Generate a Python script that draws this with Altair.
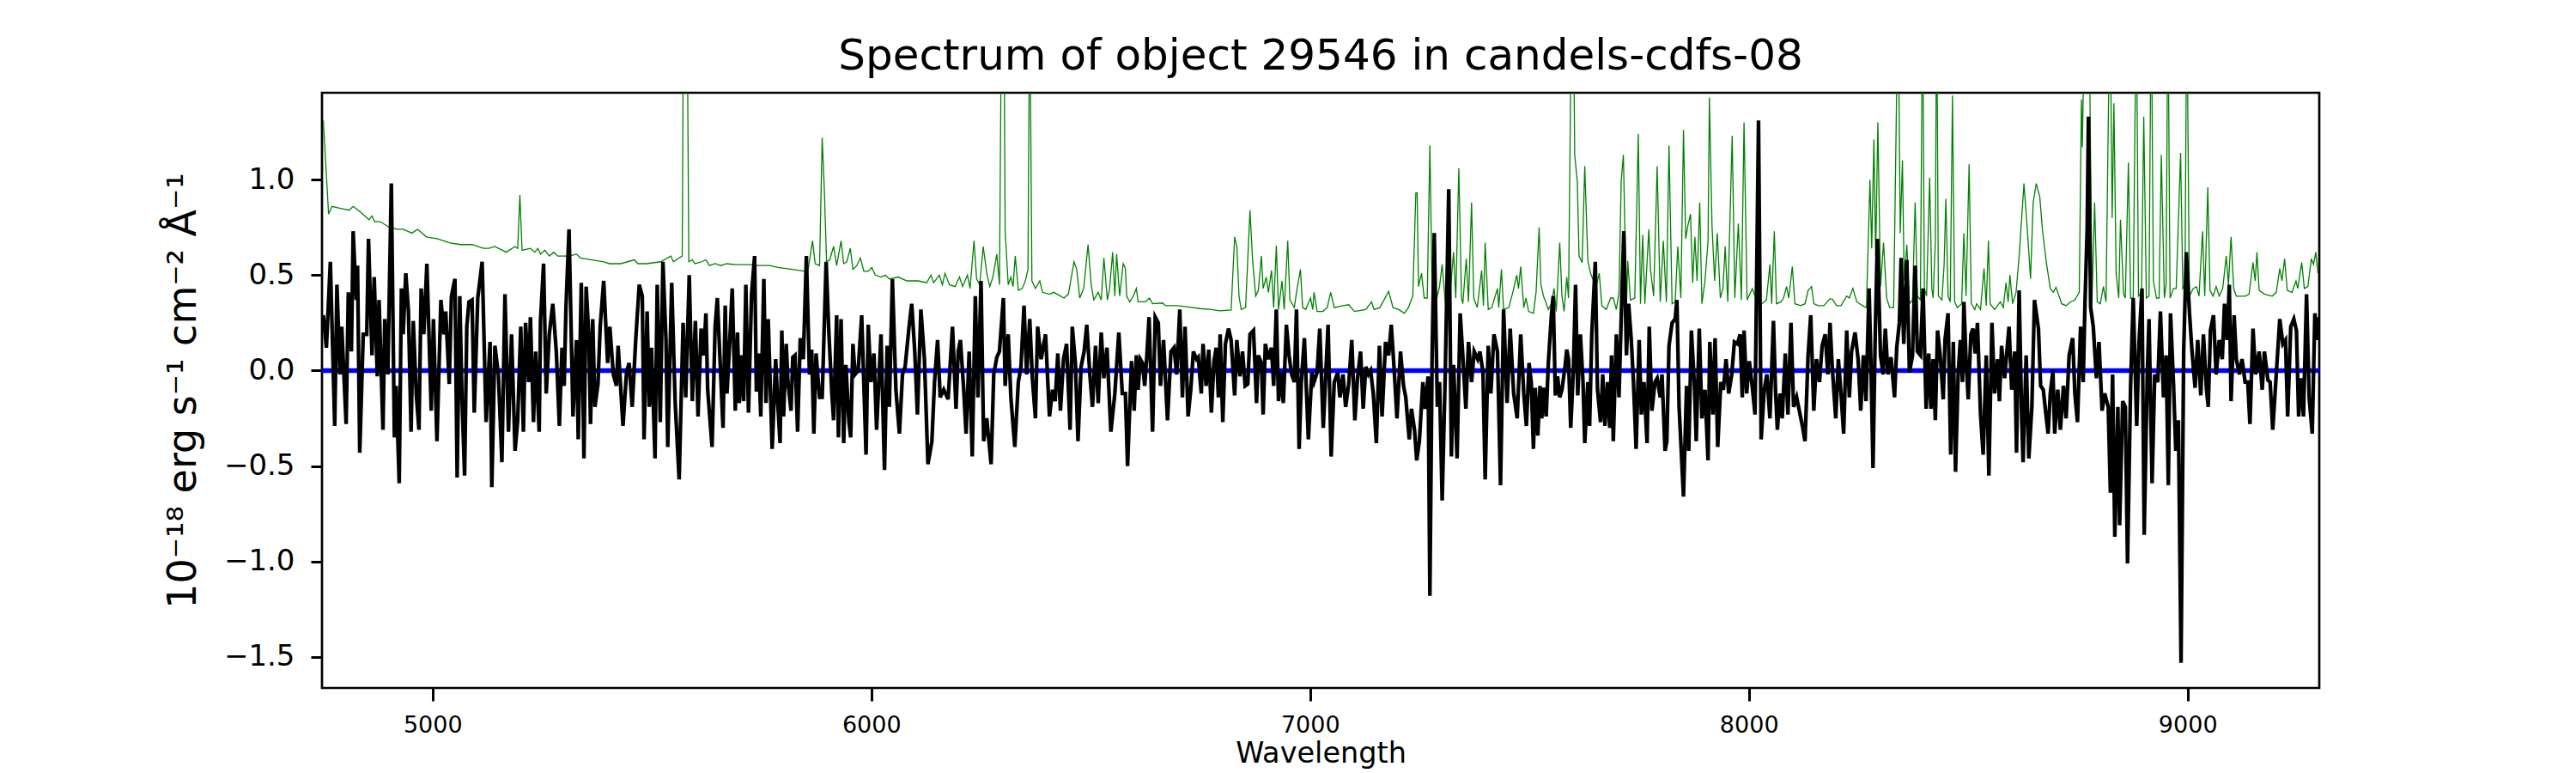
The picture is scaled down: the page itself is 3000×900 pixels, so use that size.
import altair as alt
import pandas as pd

TITLE = "Spectrum of object 29546 in candels-cdfs-08"
X_TITLE = "Wavelength"
Y_TITLE = "10⁻¹⁸ erg s⁻¹ cm⁻² Å⁻¹"
X_TICKS = [5000, 6000, 7000, 8000, 9000]
Y_TICKS = [-1.5, -1.0, -0.5, 0.0, 0.5, 1.0]
X_DOMAIN = [4748, 9300]
Y_DOMAIN = [-1.662, 1.455]
ZERO_LEVEL = [0.0]

# object flux (black): (wavelength, flux)
flux_a = [(4751,0.29),(4758,0.12),(4767,0.57),(4777,-0.29),(4782,0.45),(4789,-0.02),(4793,0.23),(4803,-0.28),(4808,0.41),(4815,0.10),(4819,0.73),(4826,0.37),(4829,0.55),(4834,-0.43),(4842,0.19),(4850,0.19),(4854,0.69),(4862,0.08),(4867,0.49),(4874,-0.03),(4878,0.37),(4887,-0.31),(4891,0.27),(4898,-0.02),(4906,0.98),(4913,-0.35),(4917,-0.08),(4924,-0.59),(4929,0.43),(4933,0.19),(4939,0.51),(4945,0.31),(4951,-0.32),(4956,0.26),(4963,-0.13),(4969,-0.31),(4974,0.43),(4980,0.19),(4987,0.56),(4997,-0.21),(5002,0.27),(5010,-0.37),(5019,0.37),(5026,0.19),(5030,0.31),(5038,-0.07),(5043,0.39),(5051,0.48),(5056,-0.56),(5062,0.39),(5067,-0.14),(5073,-0.55),(5078,0.23),(5083,0.36),(5090,0.37),(5095,-0.22),(5103,0.38),(5113,0.57),(5122,-0.27),(5131,0.15),(5135,-0.61),(5142,0.13),(5150,-0.02),(5158,-0.48),(5165,0.40),(5173,-0.32),(5180,0.19),(5188,-0.42),(5194,-0.26),(5201,0.23),(5207,-0.32),(5212,0.25),(5219,-0.06),(5223,0.28),(5230,-0.27),(5235,0.10),(5243,-0.32),(5246,0.26),(5253,0.56),(5259,-0.12),(5266,0.19),(5274,0.35),(5282,0.10),(5289,-0.29),(5295,0.12),(5300,-0.08),(5304,0.33),(5311,0.74),(5320,-0.24),(5328,0.16),(5332,-0.36),(5339,0.46),(5345,-0.46),(5350,0.44),(5356,0.19),(5360,-0.28),(5365,0.27),(5370,-0.19),(5377,-0.07),(5382,0.23),(5390,0.47),(5399,0.04),(5404,0.23),(5412,-0.02),(5419,-0.08),(5423,0.13),(5434,-0.29),(5442,-0.01),(5448,0.04),(5455,-0.19),(5463,0.16),(5471,0.45),(5478,0.39),(5482,-0.36),(5489,0.31),(5494,-0.19),(5499,0.12),(5507,-0.46),(5512,0.45),(5519,-0.27),(5525,0.57),(5532,0.16),(5536,-0.40),(5545,0.46),(5553,-0.17),(5562,-0.57),(5571,0.25),(5577,-0.14),(5585,0.50),(5592,-0.16),(5599,0.26),(5605,-0.24),(5612,0.22),(5618,0.08),(5623,0.30),(5627,-0.10),(5637,-0.40),(5644,0.23),(5649,0.38)]
flux_b = [(5657,-0.04),(5662,-0.30),(5667,0.34),(5671,-0.12),(5677,0.14),(5683,0.43),(5690,-0.21),(5695,0.20),(5699,-0.17),(5704,0.08),(5709,-0.16),(5714,0.45),(5720,-0.22),(5727,0.40),(5734,0.60),(5738,-0.11),(5743,0.09),(5748,-0.24),(5755,0.48),(5760,-0.17),(5765,0.27),(5774,-0.41),(5782,0.06),(5786,-0.14),(5792,-0.38),(5796,0.21),(5800,-0.24),(5806,0.14),(5810,-0.06),(5817,-0.21),(5821,0.07),(5826,0.08),(5832,-0.32),(5838,0.17),(5845,0.06),(5852,0.60),(5859,-0.02),(5864,0.11),(5869,-0.33),(5874,0.09),(5882,-0.14),(5888,-0.14),(5897,0.57),(5903,0.21),(5910,-0.12),(5914,-0.26),(5921,0.29),(5925,-0.35),(5931,0.27),(5937,-0.38),(5942,0.03),(5949,-0.27),(5953,-0.35),(5958,0.14),(5963,-0.02),(5970,0.00),(5978,0.29),(5988,-0.44),(5993,0.24),(5999,-0.06),(6006,0.09),(6012,-0.31),(6022,0.19),(6030,-0.52),(6036,0.13),(6041,-0.19),(6048,0.48),(6056,-0.10),(6064,-0.33),(6071,-0.02),(6077,0.02),(6086,0.23),(6092,0.35),(6099,0.10),(6105,-0.23),(6113,0.32),(6121,0.06),(6129,-0.49),(6138,-0.37),(6144,-0.06),(6151,0.16),(6157,-0.14),(6165,-0.10),(6175,-0.15),(6185,0.23),(6193,-0.20),(6198,0.10),(6203,0.16),(6210,-0.08),(6216,-0.33),(6223,0.10),(6230,-0.45),(6237,0.39),(6243,-0.14),(6250,0.47),(6256,-0.37),(6263,-0.25),(6273,-0.49),(6279,-0.02),(6286,0.07),(6292,0.10),(6301,0.38),(6305,-0.08),(6312,0.19),(6318,-0.14),(6327,-0.40),(6335,-0.06),(6341,0.02),(6348,0.34),(6354,-0.02),(6361,0.27),(6367,-0.04),(6374,-0.25),(6379,0.23),(6387,0.06),(6397,0.19),(6406,-0.24),(6413,-0.10),(6419,-0.16),(6425,0.09),(6431,-0.21),(6438,0.06),(6445,0.14),(6453,-0.31),(6458,0.23),(6465,0.04),(6471,-0.37),(6478,0.02),(6485,0.10),(6491,0.24),(6498,-0.02),(6504,-0.19),(6511,0.13),(6517,-0.17),(6524,0.20),(6530,-0.04),(6537,0.12),(6546,-0.32),(6555,-0.12),(6564,0.20),(6572,-0.12)]
flux_c = [(6579,-0.12),(6584,-0.50),(6589,-0.19),(6593,0.05),(6599,-0.21),(6604,0.08),(6608,-0.10),(6613,0.06),(6618,0.04),(6623,-0.08),(6628,0.08),(6633,0.28),(6641,-0.32),(6647,0.28),(6654,0.25),(6659,-0.08),(6666,0.16),(6675,-0.26),(6683,0.10),(6690,0.12),(6696,-0.02),(6703,0.32),(6709,-0.14),(6715,0.23),(6722,-0.24),(6728,-0.10),(6734,0.10),(6741,0.06),(6745,0.07),(6752,-0.12),(6756,0.14),(6763,-0.08),(6769,0.11),(6775,-0.22),(6781,0.05),(6786,0.12),(6791,-0.14),(6795,0.19),(6801,-0.27),(6807,0.14),(6814,0.22),(6820,0.16),(6828,-0.13),(6833,0.16),(6840,-0.03),(6846,0.10),(6852,-0.08),(6858,-0.07),(6863,0.19),(6871,0.21),(6878,-0.17),(6882,0.08),(6889,0.04),(6893,-0.23),(6898,0.14),(6905,0.06),(6912,0.12),(6917,-0.08),(6923,0.32),(6928,-0.16),(6934,-0.01),(6939,-0.17),(6946,0.24),(6952,0.08),(6958,-0.02),(6964,-0.06),(6969,0.32),(6975,-0.41),(6980,-0.06),(6987,0.17),(6996,-0.36),(7004,-0.01),(7009,-0.06),(7016,-0.01),(7022,0.22),(7030,-0.30),(7041,0.24),(7048,-0.45),(7055,-0.06),(7063,-0.01),(7068,-0.14),(7075,-0.02),(7081,-0.19),(7088,-0.07),(7095,0.16),(7102,-0.26),(7108,-0.04),(7115,0.10),(7121,-0.20),(7127,0.02),(7133,-0.02),(7138,0.00),(7144,-0.12),(7151,-0.38),(7158,0.13),(7164,-0.24),(7172,0.15),(7179,0.08),(7185,0.24),(7192,-0.01),(7198,-0.25),(7206,0.10),(7213,-0.08),(7218,-0.14),(7226,-0.36),(7231,-0.20),(7238,-0.31),(7243,-0.47),(7249,-0.37),(7257,-0.06),(7262,-0.20),(7269,-0.03),(7273,-1.18),(7278,0.06),(7283,0.72),(7290,-0.19),(7295,-0.06),(7301,-0.68),(7308,-0.02),(7316,0.95),(7322,-0.45),(7327,0.03),(7335,-0.46),(7342,0.30),(7348,0.08),(7355,-0.20),(7361,0.15),(7368,-0.06),(7374,0.10),(7382,0.06),(7387,0.10),(7394,-0.01),(7399,-0.57),(7406,0.13),(7412,-0.12),(7419,0.19),(7427,0.10),(7434,-0.60),(7441,0.32),(7449,-0.17),(7456,0.22),(7464,-0.12),(7472,-0.25),(7480,0.19),(7487,-0.12),(7493,-0.29)]
flux_d = [(7499,0.04),(7504,-0.06),(7509,-0.41),(7513,-0.09),(7519,-0.34),(7524,-0.08),(7528,-0.25),(7533,-0.09),(7538,-0.24),(7543,0.04),(7550,0.29),(7554,0.39),(7559,-0.13),(7564,-0.03),(7569,-0.14),(7574,-0.10),(7581,0.02),(7585,0.11),(7589,0.06),(7594,-0.30),(7600,0.00),(7605,0.45),(7610,-0.13),(7616,0.19),(7622,-0.06),(7626,-0.38),(7633,-0.06),(7637,-0.29),(7642,0.19),(7650,0.57),(7655,-0.10),(7662,-0.27),(7667,-0.02),(7672,-0.29),(7678,-0.06),(7683,-0.30),(7687,0.08),(7691,-0.37),(7698,0.19),(7704,-0.14),(7709,0.27),(7715,0.73),(7721,0.08),(7726,0.35),(7732,0.16),(7737,-0.06),(7743,-0.41),(7750,0.16),(7755,-0.23),(7761,-0.06),(7768,-0.38),(7773,0.23),(7779,-0.21),(7786,-0.06),(7791,-0.04),(7798,-0.14),(7802,-0.02),(7809,-0.42),(7813,-0.37),(7818,0.13),(7825,0.25),(7832,0.27),(7836,0.37),(7841,-0.19),(7851,-0.66),(7858,-0.08),(7863,-0.42),(7869,0.21),(7876,-0.08),(7880,-0.37),(7887,0.22),(7893,-0.25),(7900,-0.10),(7907,-0.47),(7911,0.15),(7918,-0.23),(7923,0.17),(7929,-0.40),(7936,-0.06),(7942,-0.10),(7948,0.06),(7954,-0.12),(7961,-0.02),(7967,0.15),(7974,0.14),(7980,0.19),(7985,-0.14),(7989,0.21),(7995,-0.12),(8001,0.05),(8008,-0.09),(8014,-0.23),(8022,1.31),(8028,-0.36),(8035,-0.10),(8041,-0.02),(8048,-0.25),(8056,0.26),(8061,-0.12),(8065,-0.31),(8071,-0.12),(8076,-0.25),(8083,0.09),(8089,-0.23),(8096,0.25),(8102,-0.19),(8109,-0.14),(8115,-0.21),(8122,-0.29),(8128,-0.37),(8135,0.08),(8141,0.29),(8148,-0.21),(8154,0.06),(8161,-0.06),(8167,0.13),(8174,0.19),(8180,-0.02),(8185,0.25),(8190,0.02),(8198,-0.25),(8204,0.06),(8210,-0.12),(8216,-0.33),(8223,0.21),(8229,-0.14),(8234,0.10),(8242,0.20),(8249,0.06),(8255,-0.21),(8261,0.08),(8267,-0.16),(8274,0.43),(8278,0.06),(8283,-0.51),(8288,0.19),(8293,0.69),(8300,0.08),(8306,-0.02),(8311,0.22),(8317,-0.02),(8324,0.07),(8332,-0.14),(8337,0.12),(8343,0.25),(8347,0.59),(8353,0.14),(8360,0.58),(8366,-0.01),(8373,0.08),(8379,0.55),(8384,0.10),(8391,0.08),(8397,0.43),(8404,-0.20),(8410,0.09),(8415,-0.20)]
flux_e = [(8420,0.06),(8425,-0.26),(8430,0.21),(8436,0.08),(8443,-0.15),(8447,0.16),(8454,0.30),(8460,-0.44),(8466,0.15),(8471,-0.53),(8477,-0.02),(8482,0.16),(8487,-0.06),(8490,0.36),(8495,0.06),(8500,-0.15),(8506,0.19),(8511,0.22),(8516,0.09),(8521,0.25),(8528,-0.23),(8534,-0.44),(8541,0.08),(8547,-0.55),(8554,0.25),(8560,-0.12),(8567,0.06),(8571,-0.16),(8576,0.13),(8583,-0.04),(8588,0.10),(8593,0.23),(8599,-0.10),(8606,0.10),(8610,-0.43),(8616,0.42),(8622,-0.27),(8625,-0.48),(8632,0.08),(8638,-0.46),(8645,-0.19),(8651,0.37),(8660,0.22),(8665,-0.08),(8671,-0.10),(8678,-0.25),(8682,-0.33),(8687,-0.12),(8693,0.00),(8697,-0.33),(8704,-0.10),(8710,-0.31),(8717,-0.08),(8723,-0.25),(8730,0.08),(8738,0.17),(8743,-0.12),(8749,-0.27),(8756,0.23),(8762,-0.06),(8766,0.35),(8771,0.74),(8774,1.33),(8779,0.33),(8785,0.23),(8792,-0.04),(8798,0.15),(8805,-0.21),(8811,-0.12),(8819,-0.19),(8824,-0.64),(8829,-0.02),(8834,-0.87),(8841,-0.19),(8845,-0.81),(8852,-0.16),(8858,-0.19),(8863,-1.01),(8870,-0.08),(8876,0.38),(8884,-0.29),(8889,0.14),(8896,0.43),(8901,-0.86),(8908,-0.02),(8912,0.27),(8919,-0.59),(8925,-0.02),(8932,-0.06),(8938,0.31),(8945,-0.14),(8951,0.08),(8956,-0.60),(8961,0.30),(8968,-0.08),(8973,-0.42),(8979,-0.26),(8985,-1.53),(8991,0.10),(8997,0.62),(9004,0.31),(9010,0.10),(9017,-0.09),(9023,0.16),(9030,-0.13),(9036,0.19),(9043,-0.10),(9047,-0.19),(9052,0.21),(9059,0.29),(9065,-0.02),(9072,0.16),(9079,0.06),(9084,0.35),(9090,0.16),(9095,0.45),(9099,-0.16),(9106,0.29),(9111,0.06),(9118,-0.02),(9124,0.06),(9131,-0.06),(9137,-0.06),(9142,-0.28),(9149,0.22),(9155,-0.02),(9163,0.10),(9170,-0.10),(9175,0.10),(9183,-0.05),(9188,-0.06),(9194,-0.31),(9202,-0.02),(9210,0.27),(9217,0.14),(9223,0.16),(9228,-0.24),(9235,0.23),(9242,0.27),(9248,0.21),(9253,-0.24),(9258,-0.04),(9264,-0.24),(9271,0.40),(9277,-0.14),(9284,-0.33),(9290,0.30),(9295,0.16),(9300,0.28)]

# noise / sky spectrum (green): (wavelength, value); 2.0 marks peaks that run off the top
sky_a = [(4751,1.31),(4763,0.82),(4771,0.86),(4790,0.85),(4810,0.84),(4819,0.86),(4836,0.83),(4855,0.79),(4862,0.81),(4868,0.78),(4881,0.78),(4901,0.75),(4920,0.74),(4933,0.74),(4953,0.72),(4966,0.74),(4986,0.70),(5012,0.69),(5038,0.67),(5064,0.66),(5090,0.66),(5116,0.64),(5129,0.64),(5142,0.65),(5168,0.62),(5188,0.65),(5194,0.64),(5199,0.92),(5204,0.63),(5223,0.64),(5233,0.62),(5240,0.64),(5246,0.61),(5256,0.63),(5266,0.60),(5276,0.62),(5285,0.60),(5311,0.60),(5328,0.61),(5337,0.59),(5364,0.58),(5390,0.57),(5403,0.56),(5429,0.56),(5460,0.58),(5468,0.56),(5487,0.56),(5520,0.57),(5543,0.60),(5549,0.57),(5562,0.59),(5569,0.60),(5572,2.0),(5580,2.0),(5584,0.57),(5592,0.58),(5598,0.56),(5614,0.57),(5623,0.58),(5631,0.55),(5644,0.56)]
sky_b = [(5657,0.55),(5670,0.56),(5690,0.555),(5722,0.555),(5742,0.55),(5768,0.55),(5787,0.54),(5820,0.53),(5849,0.52),(5856,0.53),(5866,0.68),(5872,0.56),(5882,0.55),(5888,1.22),(5893,0.94),(5898,0.57),(5905,0.58),(5914,0.65),(5921,0.55),(5931,0.68),(5937,0.56),(5944,0.57),(5952,0.64),(5958,0.53),(5967,0.55),(5975,0.59),(5983,0.52),(5993,0.52),(6001,0.54),(6009,0.50),(6022,0.49),(6032,0.50),(6041,0.48),(6061,0.49),(6081,0.47),(6107,0.47),(6126,0.46),(6136,0.50),(6142,0.46),(6155,0.50),(6162,0.45),(6168,0.51),(6178,0.45),(6191,0.44),(6201,0.49),(6208,0.44),(6219,0.50),(6225,0.43),(6234,0.68),(6240,0.48),(6247,0.45),(6255,0.65),(6263,0.51),(6270,0.44),(6277,0.49),(6286,0.61),(6292,0.45),(6297,2.0),(6302,2.0),(6305,0.73),(6312,0.45),(6318,0.49),(6323,0.44),(6328,0.60),(6335,0.42),(6344,0.43),(6351,0.47),(6357,0.53),(6361,2.0),(6366,0.47),(6374,0.43),(6384,0.47),(6390,0.41),(6406,0.40),(6416,0.41),(6439,0.38),(6449,0.40),(6462,0.57),(6468,0.53),(6475,0.38),(6484,0.43),(6494,0.66),(6501,0.45),(6507,0.37),(6517,0.41),(6524,0.37),(6530,0.59),(6538,0.37),(6543,0.43),(6550,0.62),(6555,0.39),(6559,0.61),(6566,0.39),(6574,0.56)]
sky_c = [(6579,0.535),(6582,0.39),(6589,0.36),(6597,0.39),(6604,0.43),(6608,0.36),(6625,0.36),(6634,0.38),(6641,0.35),(6664,0.354),(6670,0.34),(6696,0.34),(6722,0.333),(6749,0.325),(6775,0.32),(6794,0.313),(6820,0.317),(6828,0.70),(6833,0.65),(6838,0.39),(6843,0.32),(6853,0.33),(6863,0.84),(6869,0.576),(6876,0.39),(6882,0.42),(6889,0.60),(6893,0.43),(6900,0.49),(6905,0.41),(6912,0.525),(6917,0.33),(6923,0.654),(6928,0.32),(6936,0.47),(6941,0.32),(6949,0.68),(6954,0.37),(6964,0.33),(6969,0.41),(6978,0.53),(6983,0.33),(6990,0.32),(7001,0.38),(7006,0.32),(7009,0.41),(7016,0.31),(7029,0.31),(7039,0.33),(7047,0.41),(7055,0.33),(7075,0.34),(7088,0.345),(7101,0.31),(7127,0.32),(7140,0.36),(7146,0.32),(7159,0.33),(7179,0.415),(7189,0.33),(7202,0.32),(7215,0.30),(7224,0.33),(7234,0.39),(7241,0.93),(7244,0.93),(7247,0.44),(7254,0.51),(7260,0.38),(7267,0.38),(7273,1.18),(7278,0.43),(7286,0.35),(7295,0.44),(7301,0.556),(7308,0.36),(7319,0.40),(7327,0.62),(7332,0.38),(7339,1.06),(7345,0.38),(7348,0.35),(7356,0.586),(7361,0.36),(7368,0.88),(7373,0.38),(7381,0.33),(7391,0.525),(7395,0.34),(7399,0.67),(7406,0.32),(7414,0.33),(7427,0.43),(7430,0.33),(7436,0.53),(7441,0.32),(7453,0.33),(7462,0.41),(7471,0.50),(7475,0.43),(7480,0.545),(7487,0.33),(7492,0.38),(7498,0.31)]
sky_d = [(7509,0.30),(7515,0.41),(7522,0.75),(7526,0.45),(7532,0.39),(7537,0.36),(7543,0.32),(7550,0.35),(7556,0.43),(7561,0.31),(7569,0.67),(7574,0.39),(7579,0.31),(7585,0.49),(7589,0.38),(7596,2.0),(7600,2.0),(7603,1.13),(7609,0.99),(7613,0.60),(7620,0.566),(7626,1.07),(7633,0.576),(7639,0.51),(7646,0.47),(7652,0.44),(7659,0.51),(7665,0.34),(7675,0.32),(7685,0.38),(7691,0.38),(7698,0.32),(7704,0.41),(7709,0.99),(7714,1.13),(7721,0.34),(7724,0.576),(7730,0.37),(7740,0.38),(7748,1.24),(7753,0.35),(7758,0.71),(7763,0.35),(7772,0.74),(7776,0.525),(7783,0.39),(7791,1.07),(7798,0.36),(7805,0.68),(7812,0.36),(7818,1.18),(7825,0.35),(7832,0.36),(7838,0.65),(7845,0.38),(7851,1.26),(7856,0.69),(7861,0.76),(7867,0.82),(7872,0.46),(7877,0.70),(7882,0.47),(7888,0.88),(7893,0.35),(7900,0.47),(7907,0.68),(7910,1.43),(7916,0.76),(7922,0.47),(7928,0.72),(7935,0.38),(7941,0.43),(7946,0.65),(7952,0.36),(7962,1.23),(7968,0.38),(7976,0.77),(7983,0.37),(7989,1.30),(7996,0.37),(8008,0.43),(8014,0.39),(8021,0.35),(8030,0.35),(8040,0.37),(8048,0.556),(8052,0.35),(8058,0.73),(8063,0.35),(8073,0.36),(8079,0.38),(8086,0.44),(8091,0.38),(8099,0.545),(8105,0.35),(8118,0.34),(8128,0.35),(8135,0.42),(8143,0.44),(8148,0.35),(8158,0.34),(8171,0.34),(8184,0.375),(8190,0.375),(8200,0.34),(8210,0.34),(8223,0.39),(8229,0.38),(8237,0.43),(8246,0.36),(8259,0.34),(8268,0.33),(8276,1.00),(8280,0.64),(8285,1.21),(8289,0.60),(8294,1.30),(8300,0.44),(8307,0.67),(8314,0.38),(8321,0.33),(8330,0.33),(8340,2.0),(8345,0.72),(8350,1.10),(8354,0.47),(8360,0.66),(8366,0.35),(8373,0.37),(8379,0.88),(8384,0.39),(8391,0.37),(8396,2.0),(8400,0.43),(8405,0.39),(8412,1.01),(8417,0.43)]
sky_e = [(8420,0.38),(8425,0.68),(8428,2.0),(8432,0.39),(8440,0.37),(8445,0.556),(8449,0.90),(8454,0.39),(8459,0.36),(8464,1.44),(8469,0.36),(8475,0.33),(8485,0.35),(8490,0.72),(8495,0.39),(8502,1.08),(8507,0.35),(8515,0.32),(8519,0.35),(8528,0.32),(8536,0.535),(8541,0.34),(8546,0.68),(8550,0.35),(8560,0.32),(8573,0.36),(8580,0.33),(8586,0.46),(8591,0.36),(8595,0.50),(8601,0.35),(8609,0.41),(8616,0.60),(8627,0.98),(8634,0.76),(8642,0.48),(8648,0.88),(8655,0.98),(8663,0.91),(8669,0.74),(8678,0.566),(8687,0.43),(8694,0.41),(8700,0.436),(8707,0.39),(8713,0.35),(8723,0.34),(8733,0.36),(8743,0.37),(8753,0.41),(8758,1.42),(8760,1.17),(8766,2.0),(8772,2.0),(8775,2.0),(8782,0.36),(8788,0.88),(8794,0.36),(8801,0.35),(8808,0.44),(8814,0.36),(8823,2.0),(8828,0.80),(8832,1.40),(8837,0.51),(8843,0.38),(8847,0.79),(8854,0.40),(8858,0.38),(8865,1.09),(8870,0.38),(8876,0.38),(8883,2.0),(8888,0.39),(8895,0.41),(8900,1.33),(8906,0.38),(8912,0.39),(8917,2.0),(8922,0.47),(8929,0.38),(8935,0.38),(8940,1.13),(8947,0.38),(8951,0.45),(8955,2.0),(8960,0.38),(8968,0.43),(8974,0.43),(8984,1.14),(8989,0.43),(8994,0.45),(8998,2.0),(9004,0.39),(9013,0.43),(9020,0.44),(9026,0.39),(9034,0.73),(9039,0.39),(9046,0.96),(9051,0.42),(9058,0.39),(9065,0.44),(9072,0.39),(9080,0.43),(9088,0.60),(9093,0.45),(9099,0.70),(9105,0.43),(9111,0.39),(9121,0.39),(9131,0.39),(9140,0.40),(9149,0.566),(9154,0.47),(9158,0.62),(9163,0.42),(9176,0.40),(9193,0.39),(9202,0.41),(9210,0.535),(9215,0.47),(9221,0.586),(9227,0.42),(9238,0.41),(9247,0.47),(9251,0.43),(9260,0.566),(9266,0.43),(9274,0.44),(9282,0.586),(9287,0.556),(9292,0.62),(9297,0.51)]

flux = pd.DataFrame(flux_a + flux_b + flux_c + flux_d + flux_e, columns=["wl", "f"])
sky = pd.DataFrame(sky_a + sky_b + sky_c + sky_d + sky_e, columns=["wl", "f"])
zero = pd.DataFrame({"f": ZERO_LEVEL})

x_enc = alt.X(
    "wl:Q",
    scale=alt.Scale(domain=X_DOMAIN, nice=False, zero=False),
    axis=alt.Axis(
        values=X_TICKS, format="d", title=X_TITLE, grid=False, domain=False,
        labelFontSize=27, tickSize=15, tickWidth=3, labelPadding=15,
        titleFontSize=33.5, titleFontWeight="normal", titleY=86,
        titleBaseline="alphabetic",
    ),
)
y_enc = alt.Y(
    "f:Q",
    scale=alt.Scale(domain=Y_DOMAIN, nice=False, zero=False),
    axis=alt.Axis(
        values=Y_TICKS, format=".1f", title=Y_TITLE, grid=False, domain=False,
        labelFontSize=34, tickSize=13, tickWidth=3, labelPadding=19,
        titleFontSize=46, titleFontWeight="normal", titleX=-148,
        titleBaseline="alphabetic",
    ),
)

sky_line = alt.Chart(sky).mark_line(color="#008000", strokeWidth=1.3, clip=True).encode(x=x_enc, y=y_enc)
zero_line = alt.Chart(zero).mark_rule(color="#0000ff", strokeWidth=5.3).encode(y=alt.Y("f:Q"))
flux_line = alt.Chart(flux).mark_line(color="#000000", strokeWidth=4.3, clip=True).encode(x=x_enc, y=y_enc)

chart = (
    alt.layer(sky_line, zero_line, flux_line)
    .properties(
        width=2326,
        height=693,
        autosize=alt.AutoSizeParams(type="none"),
        padding={"left": 367, "top": 100, "right": 291, "bottom": 99},
        title=alt.TitleParams(
            text=TITLE, fontSize=50, fontWeight="normal", anchor="middle",
            baseline="alphabetic", offset=25, dy=48, color="#000000",
        ),
    )
    .configure(font="DejaVu Sans")
    .configure_view(stroke="#000000", strokeWidth=2.7)
    .configure_axis(labelColor="#000000", tickColor="#000000", titleColor="#000000",
                    labelFont="DejaVu Sans", titleFont="DejaVu Sans")
)

chart.save("out.html", embed_options={"renderer": "svg", "actions": False})
